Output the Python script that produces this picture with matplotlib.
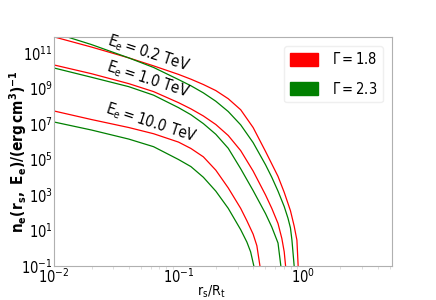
import numpy as np
import matplotlib
matplotlib.use("Agg")
import matplotlib.pyplot as plt
from matplotlib.patches import Patch

# log10(r_s/R_t) and log10(n_e)
# E_e = 0.2 TeV
lx_r02 = [-2.0, -1.7, -1.4, -1.2, -1.0, -0.9, -0.8, -0.7, -0.6, -0.5, -0.4, -0.3, -0.25, -0.2, -0.15, -0.1, -0.07, -0.048, -0.038, -0.035]
ly_r02 = [11.90, 11.33, 10.72, 10.27, 9.79, 9.52, 9.22, 8.88, 8.42, 7.80, 6.80, 5.45, 4.75, 4.05, 3.15, 2.12, 1.25, 0.46, -1.0, -2.0]
lx_g02 = [-2.0, -1.7, -1.4, -1.2, -1.0, -0.9, -0.8, -0.7, -0.6, -0.5, -0.4, -0.3, -0.25, -0.2, -0.15, -0.12, -0.1, -0.088, -0.070, -0.066]
ly_g02 = [12.13, 11.47, 10.72, 10.18, 9.50, 9.15, 8.75, 8.28, 7.70, 6.95, 5.95, 4.70, 4.00, 3.22, 2.35, 1.70, 1.15, 0.46, -1.0, -2.0]

# E_e = 1.0 TeV
lx_r10 = [-2.0, -1.7, -1.4, -1.2, -1.0, -0.9, -0.8, -0.7, -0.6, -0.5, -0.4, -0.3, -0.25, -0.2, -0.169, -0.15, -0.139, -0.134]
ly_r10 = [10.32, 9.83, 9.27, 8.82, 8.20, 7.85, 7.45, 6.97, 6.35, 5.50, 4.35, 3.00, 2.25, 1.40, 0.55, -0.2, -1.0, -2.0]
lx_g10 = [-2.0, -1.7, -1.4, -1.2, -1.0, -0.9, -0.8, -0.7, -0.6, -0.5, -0.4, -0.3, -0.25, -0.2, -0.177, -0.172]
ly_g10 = [10.15, 9.63, 9.10, 8.62, 7.92, 7.52, 7.02, 6.42, 5.63, 4.48, 3.25, 1.95, 1.20, 0.30, -1.0, -2.0]

# E_e = 10.0 TeV
lx_r100 = [-2.0, -1.7, -1.4, -1.2, -1.0, -0.9, -0.8, -0.7, -0.6, -0.5, -0.45, -0.4, -0.37, -0.345, -0.34]
ly_r100 = [7.73, 7.25, 6.80, 6.45, 5.98, 5.62, 5.15, 4.40, 3.40, 2.25, 1.55, 0.80, 0.15, -1.0, -2.0]
lx_g100 = [-2.0, -1.7, -1.4, -1.2, -1.0, -0.9, -0.8, -0.7, -0.6, -0.5, -0.45, -0.42, -0.394, -0.388]
ly_g100 = [7.11, 6.66, 6.15, 5.72, 5.00, 4.60, 4.00, 3.22, 2.25, 1.05, 0.35, -0.20, -1.0, -2.0]

labels = [r"$E_e = 0.2\ TeV$", r"$E_e = 1.0\ TeV$", r"$E_e = 10.0\ TeV$"]
label_x = [0.057, 0.057, 0.060]
label_y = [1.0e11, 3.0e9, 1.1e7]
gamma_labels = [r"$\Gamma = 1.8$", r"$\Gamma = 2.3$"]
yticks = [1e-1, 1e1, 1e3, 1e5, 1e7, 1e9, 1e11]

plt.rcParams['font.family'] = ['DejaVu Sans']
plt.rcParams['font.stretch'] = 'condensed'
plt.rcParams['mathtext.default'] = 'regular'

fig = plt.figure(figsize=(4.36, 3.0), dpi=100)
ax = fig.add_axes([0.124, 0.113, 0.775, 0.764])

red = '#ff0000'
green = '#008000'
curves = [(lx_r02, ly_r02, red), (lx_g02, ly_g02, green),
          (lx_r10, ly_r10, red), (lx_g10, ly_g10, green),
          (lx_r100, ly_r100, red), (lx_g100, ly_g100, green)]
for lxs, lys, c in curves:
    ax.plot(np.power(10.0, lxs), np.power(10.0, lys), color=c, lw=0.9)

ax.set_xscale('log')
ax.set_yscale('log')
ax.set_xlim(1e-2, 5.2)
ax.set_ylim(1e-1, 10**11.9)
ax.set_yticks(yticks)
ax.set_xticks([1e-2, 1e-1, 1e0])
ax.yaxis.set_minor_locator(matplotlib.ticker.NullLocator())

for s in ax.spines.values():
    s.set_color('#b0b0b0')
ax.tick_params(which='major', length=0, labelsize=10.5, pad=1)
ax.tick_params(which='minor', length=2, color='#d8d8d8')

for t, lx, lyv in zip(labels, label_x, label_y):
    ax.text(lx, lyv, t, rotation=-18, ha='center', va='center', fontsize=11)

ax.set_xlabel(r"$r_s/R_t$", fontsize=10)
ax.xaxis.set_label_coords(0.465, -0.075)
ax.set_ylabel(r"$n_e(r_s,\ E_e)/(erg\,cm^3)^{-1}$", fontsize=11, fontweight='bold')
ax.yaxis.set_label_coords(-0.075, 0.5)

handles = [Patch(facecolor=red, edgecolor=red), Patch(facecolor=green, edgecolor=green)]
leg = ax.legend(handles, gamma_labels, loc='upper right', fontsize=10.5,
                handlelength=1.9, handleheight=1.0, handletextpad=1.0,
                labelspacing=0.9, borderaxespad=0.6, frameon=True)
leg.get_frame().set_edgecolor('#ebebeb')

fig.savefig('out.png', dpi=100)
